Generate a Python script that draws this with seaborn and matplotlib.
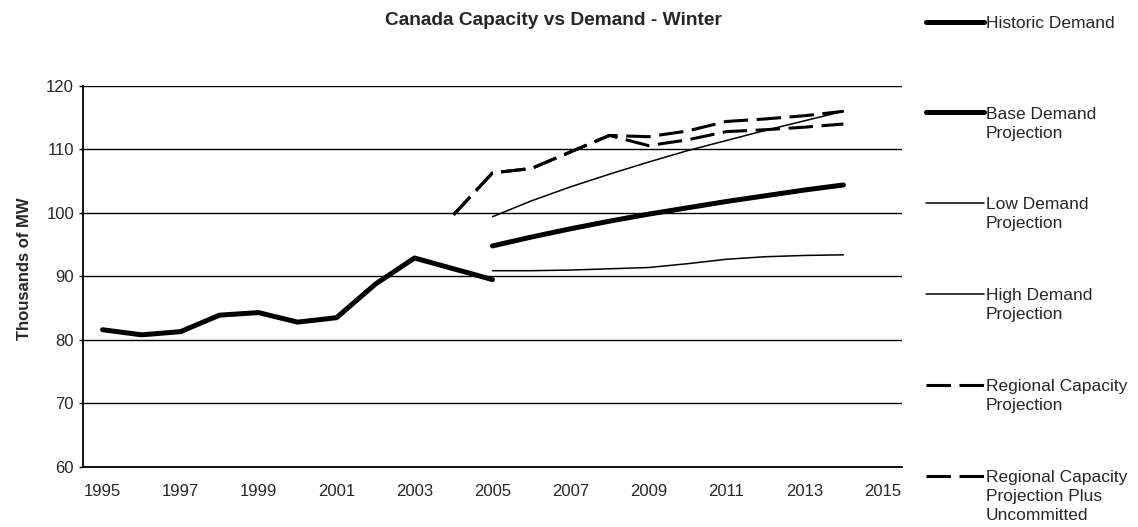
import numpy as np
import pandas as pd
import seaborn as sns
import matplotlib

matplotlib.use('Agg')
import matplotlib.pyplot as plt
from matplotlib.legend_handler import HandlerLine2D

# data (thousands of MW)
hist_years = list(range(1995, 2006))
historic = [81.6, 80.8, 81.3, 83.9, 84.3, 82.8, 83.5, 88.8, 92.9, 91.2, 89.5]

proj_years = list(range(2005, 2015))
base_demand = [94.8, 96.2, 97.5, 98.7, 99.8, 100.8, 101.8, 102.7, 103.6, 104.4]
low_demand = [90.9, 90.9, 91.0, 91.2, 91.4, 92.0, 92.7, 93.1, 93.3, 93.4]
high_demand = [99.4, 101.9, 104.1, 106.1, 108.0, 109.8, 111.4, 113.0, 114.5, 116.0]

cap_years = list(range(2004, 2015))
regional_cap = [99.7, 106.3, 107.0, 109.6, 112.2, 110.6, 111.5, 112.8, 113.1, 113.5, 114.0]
regional_plus = [99.7, 106.3, 107.0, 109.6, 112.2, 112.0, 112.9, 114.4, 114.8, 115.3, 116.0]

labels = ['Historic Demand', 'Base Demand\nProjection', 'Low Demand\nProjection',
          'High Demand\nProjection', 'Regional Capacity\nProjection',
          'Regional Capacity\nProjection Plus\nUncommitted']


class FirstLineHandler(HandlerLine2D):
    # put the legend line level with the first line of a multi-line label
    def __init__(self, lift, **kw):
        super().__init__(**kw)
        self.lift = lift

    def create_artists(self, legend, orig_handle, xdescent, ydescent,
                       width, height, fontsize, trans):
        return super().create_artists(legend, orig_handle, xdescent,
                                      ydescent - self.lift * fontsize,
                                      width, height, fontsize, trans)


sns.set_style('white')
plt.rcParams['font.family'] = ['Liberation Sans', 'DejaVu Sans']

fig = plt.figure(figsize=(11.38, 5.27), dpi=100)
ax = fig.add_axes([0.073, 0.114, 0.7195, 0.723])

dash = (0, (8, 2.8))
series = [
    (hist_years, historic, dict(lw=3.6, ls='-')),
    (proj_years, base_demand, dict(lw=3.6, ls='-')),
    (proj_years, low_demand, dict(lw=1.1, ls='-')),
    (proj_years, high_demand, dict(lw=1.1, ls='-')),
    (cap_years, regional_cap, dict(lw=2.2, ls=dash)),
    (cap_years, regional_plus, dict(lw=2.2, ls=dash)),
]
handles = []
for (x, y, st), lab in zip(series, labels):
    df = pd.DataFrame({'year': x, 'mw': y})
    sns.lineplot(data=df, x='year', y='mw', ax=ax, color='black',
                 linewidth=st['lw'], linestyle=st['ls'],
                 solid_joinstyle='round', solid_capstyle='round')
    handles.append(ax.get_lines()[-1])

ax.set_xlim(1994.5, 2015.5)
ax.set_ylim(60, 120)
ax.set_yticks(np.arange(60, 121, 10))
ax.set_xticks(np.arange(1995, 2016, 2))
ax.set_xticks(np.arange(1994.5, 2015.6, 1), minor=True)
ax.grid(axis='y', color='black', linewidth=1.0)
ax.grid(axis='x', visible=False)
for s in ['top', 'right']:
    ax.spines[s].set_visible(False)
ax.spines['left'].set_color('black')
ax.spines['left'].set_linewidth(1.3)
ax.spines['bottom'].set_color('black')
ax.spines['bottom'].set_linewidth(1.3)
ax.tick_params(axis='x', which='major', length=0, pad=12, labelsize=12)
ax.tick_params(axis='x', which='minor', length=4, width=1, color='black', direction='out')
ax.tick_params(axis='y', length=3, width=1, color='black', direction='out', labelsize=12, left=True)
ax.set_xlabel('')
ax.set_ylabel('Thousands of MW', fontsize=12, fontweight='bold')
ax.yaxis.set_label_coords(-0.062, 0.52)

fig.text(0.486, 0.962, 'Canada Capacity vs Demand - Winter', ha='center', va='center',
         fontsize=13.8, fontweight='bold')

# pad labels to three lines so entries are evenly spaced
pad_labels = [l + '\n' * (2 - l.count('\n')) for l in labels]
hmap = {h: FirstLineHandler(lift=2.36) for h in handles}
leg = fig.legend(handles, pad_labels, loc='upper left', bbox_to_anchor=(0.814, 0.970),
                 frameon=False, fontsize=12.5, handlelength=3.3, handletextpad=0.12,
                 borderpad=0, borderaxespad=0, labelspacing=2.18, handler_map=hmap)
for t in leg.get_texts():
    t.set_linespacing(1.33)

fig.savefig('out.png', dpi=100)
